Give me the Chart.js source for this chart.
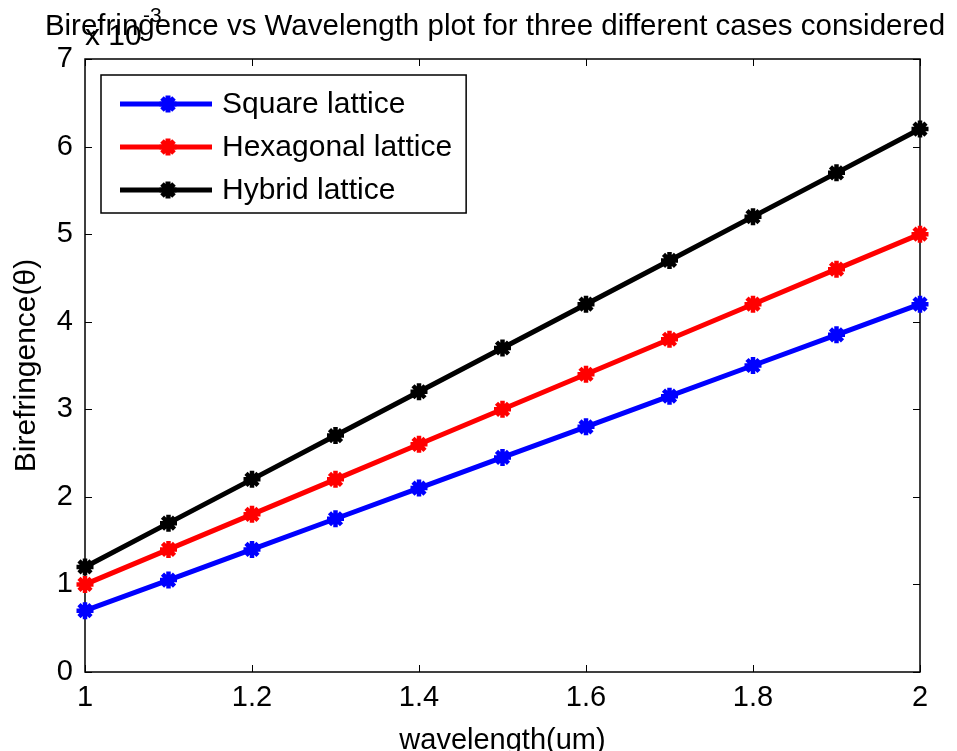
<!DOCTYPE html>
<html>
<head>
<meta charset="utf-8">
<script src="https://cdn.jsdelivr.net/npm/chart.js@4.4.0/dist/chart.umd.min.js"></script>
<style>
  html, body { margin: 0; padding: 0; background: #fff; }
  #wrap { width: 957px; height: 751px; }
</style>
</head>
<body>
<div id="wrap"><canvas id="grafico"></canvas></div>
<script>
// valores en unidades de 1e-3
const wavelength = [1.0, 1.1, 1.2, 1.3, 1.4, 1.5, 1.6, 1.7, 1.8, 1.9, 2.0];
const squareLattice = [0.7, 1.05, 1.4, 1.75, 2.1, 2.45, 2.8, 3.15, 3.5, 3.85, 4.2];
const hexagonalLattice = [1.0, 1.4, 1.8, 2.2, 2.6, 3.0, 3.4, 3.8, 4.2, 4.6, 5.0];
const hybridLattice = [1.2, 1.7, 2.2, 2.7, 3.2, 3.7, 4.2, 4.7, 5.2, 5.7, 6.2];
const xTicks = [1, 1.2, 1.4, 1.6, 1.8, 2];
const yTicks = [0, 1, 2, 3, 4, 5, 6, 7];

const FONT = "'Liberation Sans', Arial, sans-serif";

const puntos = (ys) => wavelength.map((x, i) => ({ x: x, y: ys[i] }));

const serie = (label, ys, color) => ({
  label: label,
  data: puntos(ys),
  borderColor: color,
  backgroundColor: color,
  borderWidth: 5,
  pointStyle: "star",
  pointRadius: 8.5,
  pointBorderWidth: 4.5,
  pointBackgroundColor: color,
  pointBorderColor: color,
  tension: 0,
  clip: false,
});

// marco, ticks interiores, titulo y leyenda estilo MATLAB
const estiloMatlab = {
  id: "estiloMatlab",
  beforeDatasetsDraw(chart) {
    const { ctx, chartArea: a, scales } = chart;
    ctx.save();
    ctx.strokeStyle = "#000";
    ctx.lineWidth = 1;
    xTicks.forEach((v) => {
      const px = Math.round(scales.x.getPixelForValue(v)) + 0.5;
      ctx.beginPath();
      ctx.moveTo(px, a.bottom); ctx.lineTo(px, a.bottom - 7);
      ctx.moveTo(px, a.top); ctx.lineTo(px, a.top + 7);
      ctx.stroke();
    });
    yTicks.forEach((v) => {
      const py = Math.round(scales.y.getPixelForValue(v)) + 0.5;
      ctx.beginPath();
      ctx.moveTo(a.left, py); ctx.lineTo(a.left + 7, py);
      ctx.moveTo(a.right, py); ctx.lineTo(a.right - 7, py);
      ctx.stroke();
    });
    ctx.lineWidth = 1.5;
    ctx.strokeRect(a.left, a.top, a.right - a.left, a.bottom - a.top);
    ctx.restore();
  },
  afterDraw(chart) {
    const { ctx, chartArea: a } = chart;
    ctx.save();
    ctx.fillStyle = "#000";
    ctx.textBaseline = "alphabetic";

    // titulo
    ctx.font = "29.5px " + FONT;
    ctx.textAlign = "center";
    ctx.fillText("Birefringence vs Wavelength plot for three different cases considered", 495, 35);

    // exponente
    ctx.textAlign = "left";
    ctx.font = "30px " + FONT;
    ctx.fillText("x 10", a.left, 45);
    ctx.font = "21px " + FONT;
    ctx.fillText("-3", 143, 22);

    // leyenda
    const ds = chart.data.datasets;
    const bx = 101, by = 75, rowH = 43;
    ctx.font = "30px " + FONT;
    const anchoTxt = Math.max(...ds.map((d) => ctx.measureText(d.label).width));
    const bw = 222 - bx + anchoTxt + 14;
    const bh = rowH * ds.length + 9;
    ctx.fillStyle = "#fff";
    ctx.fillRect(bx, by, bw, bh);
    ctx.strokeStyle = "#000";
    ctx.lineWidth = 1.5;
    ctx.strokeRect(bx, by, bw, bh);
    ds.forEach((d, i) => {
      const cy = by + 29 + i * rowH;
      ctx.strokeStyle = d.borderColor;
      ctx.lineWidth = 5;
      ctx.beginPath();
      ctx.moveTo(120, cy); ctx.lineTo(212, cy);
      ctx.stroke();
      Chart.helpers.drawPoint(ctx, { pointStyle: "star", radius: 8.5, borderWidth: 4.5 }, 168, cy);
      ctx.fillStyle = "#000";
      ctx.textBaseline = "middle";
      ctx.fillText(d.label, 222, cy + 1);
    });
    ctx.restore();
  },
};

Chart.defaults.font.family = FONT;
Chart.defaults.color = "#000";

new Chart(document.getElementById("grafico"), {
  type: "line",
  data: {
    datasets: [
      serie("Square lattice", squareLattice, "rgb(0, 0, 255)"),
      serie("Hexagonal lattice", hexagonalLattice, "rgb(255, 0, 0)"),
      serie("Hybrid lattice", hybridLattice, "rgb(0, 0, 0)"),
    ],
  },
  options: {
    responsive: true,
    maintainAspectRatio: false,
    animation: false,
    events: [],
    layout: { padding: { left: 0, right: 37, top: 59, bottom: 0 } },
    plugins: {
      legend: { display: false },
      tooltip: { enabled: false },
    },
    scales: {
      x: {
        type: "linear",
        min: 1,
        max: 2,
        afterBuildTicks: (s) => { s.ticks = xTicks.map((v) => ({ value: v })); },
        afterFit: (s) => { s.height = 79; },
        grid: { display: false, drawTicks: false },
        border: { display: false },
        ticks: {
          padding: 9,
          font: { size: 29, lineHeight: 1.2 },
          callback: (v) => String(Number(v.toFixed(1))),
        },
        title: {
          display: true,
          text: "wavelength(um)",
          font: { size: 29, lineHeight: 0.66 },
          padding: 0,
        },
      },
      y: {
        min: 0,
        max: 7,
        afterBuildTicks: (s) => { s.ticks = yTicks.map((v) => ({ value: v })); },
        afterFit: (s) => { s.width = 85; },
        grid: { display: false, drawTicks: false },
        border: { display: false },
        ticks: {
          padding: 12,
          font: { size: 29 },
        },
        title: {
          display: true,
          text: "Birefringence(\u03B8)",
          font: { size: 30, lineHeight: 1 },
          padding: { top: 12, bottom: 0 },
        },
      },
    },
  },
  plugins: [estiloMatlab],
});
</script>
</body>
</html>
